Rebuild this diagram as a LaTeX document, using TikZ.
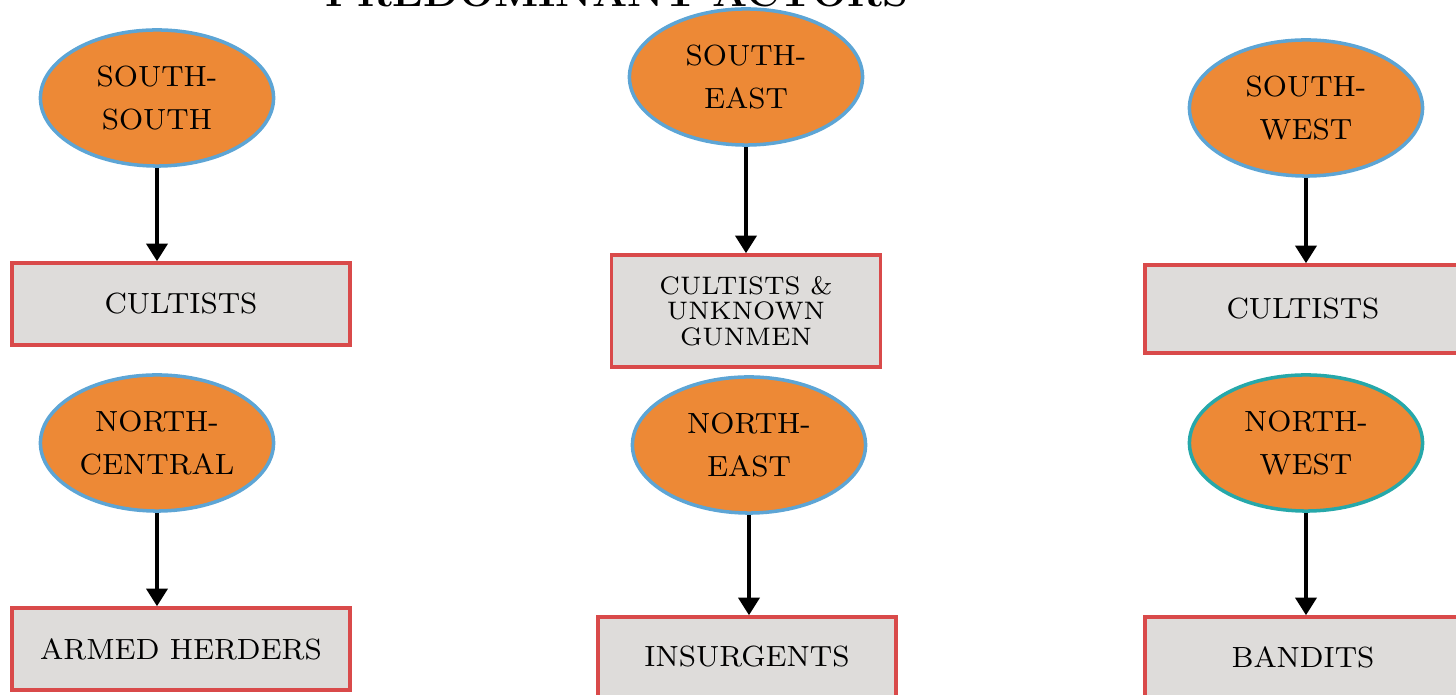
\documentclass[tikz,border=0pt]{standalone}
\usepackage{tikz}
\usetikzlibrary{shapes.geometric,arrows.meta}
\definecolor{zoneorange}{RGB}{237,137,54}
\definecolor{zoneblue}{RGB}{93,165,213}
\definecolor{zoneteal}{RGB}{38,168,170}
\definecolor{actgrey}{RGB}{222,220,218}
\definecolor{actred}{RGB}{217,74,74}

\begin{document}
\begin{tikzpicture}[x=0.01cm, y=-0.01cm]
    \tikzset{%
      zone/.style={ellipse, draw=zoneblue, fill=zoneorange, line width=1pt,
        inner sep=0pt, minimum width=2.33cm, minimum height=1.36cm,
        align=center, font=\fontsize{8.3}{12}\selectfont},
      actor/.style={rectangle, draw=actred, fill=actgrey, line width=1pt,
        inner sep=0pt, align=center, font=\fontsize{8.3}{10}\selectfont},
      link/.style={-{Triangle[length=5pt,width=6pt]}, line width=1pt},
    }
    \useasboundingbox (0,0) rectangle (1456,695);
    \node[anchor=base, font=\bfseries\fontsize{11.8}{14}\selectfont] (T)
      at (617,7) {PREDOMINANT ACTORS};

    % south-south
    \node[zone] (SS) at (157,98) {SOUTH-\\SOUTH};
    \node[actor, minimum width=3.38cm, minimum height=0.82cm] (SSa)
      at (181,304) {CULTISTS};
    \draw [link] (SS.south) -- (SS.south |- SSa.north);

    % south-east
    \node[zone] (SE) at (746,77) {SOUTH-\\EAST};
    \node[actor, minimum width=2.69cm, minimum height=1.12cm,
      font=\fontsize{7.2}{7.2}\selectfont] (SEa)
      at (746,311) {CULTISTS \&\\UNKNOWN\\GUNMEN};
    \draw [link] (SE.south) -- (SE.south |- SEa.north);

    % south-west
    \node[zone] (SW) at (1306,108) {SOUTH-\\WEST};
    \node[actor, minimum width=3.16cm, minimum height=0.88cm] (SWa)
      at (1303,309) {CULTISTS};
    \draw [link] (SW.south) -- (SW.south |- SWa.north);

    % north-central
    \node[zone] (NC) at (157,443) {NORTH-\\CENTRAL};
    \node[actor, minimum width=3.38cm, minimum height=0.82cm] (NCa)
      at (181,649) {ARMED HERDERS};
    \draw [link] (NC.south) -- (NC.south |- NCa.north);

    % north-east
    \node[zone] (NE) at (749,445) {NORTH-\\EAST};
    \node[actor, minimum width=2.98cm, minimum height=0.80cm] (NEa)
      at (747,657) {INSURGENTS};
    \draw [link] (NE.south) -- (NE.south |- NEa.north);

    % north-west
    \node[zone, draw=zoneteal] (NW) at (1306,443) {NORTH-\\WEST};
    \node[actor, minimum width=3.16cm, minimum height=0.80cm] (NWa)
      at (1303,657) {BANDITS};
    \draw [link] (NW.south) -- (NW.south |- NWa.north);
\end{tikzpicture}
\end{document}
